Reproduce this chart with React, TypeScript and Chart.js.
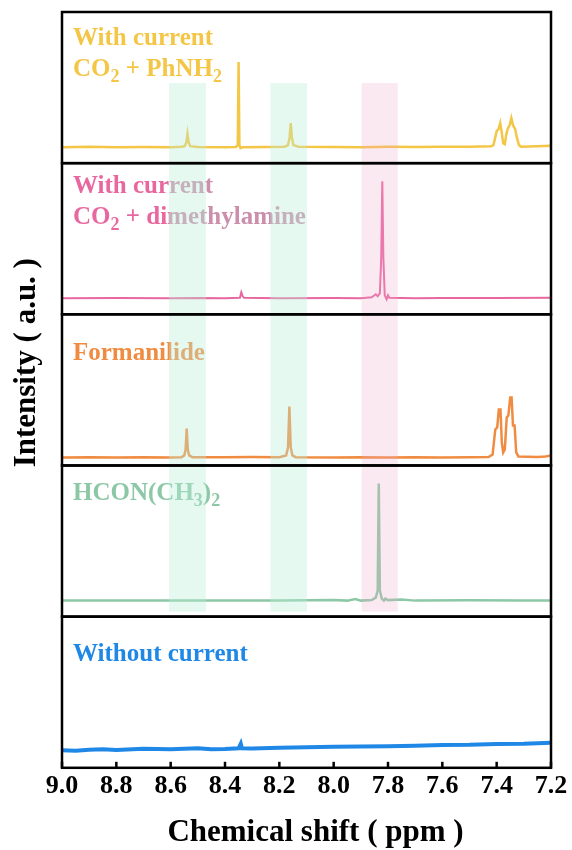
import React, { useEffect, useRef } from "react";
import { Chart, registerables } from "chart.js";
Chart.register(...registerables);

// ---------- axis ----------
const X_MIN = 7.2;
const X_MAX = 9.0;
const X_STEP = 0.2;
const X_TITLE = "Chemical shift ( ppm )";
const Y_TITLE = "Intensity ( a.u. )";

// ---------- spectra (ppm, intensity) ----------
// 1: With current, CO2 + PhNH2
const phShift = [9.0, 8.9, 8.8, 8.7, 8.6, 8.56, 8.548, 8.542, 8.538, 8.534, 8.528, 8.5, 8.4, 8.36, 8.353, 8.35, 8.347, 8.343, 8.335, 8.25, 8.18, 8.168, 8.162, 8.158, 8.154, 8.148, 8.13, 8.0, 7.9, 7.8, 7.7, 7.6, 7.5, 7.42, 7.412, 7.405, 7.4, 7.393, 7.387, 7.382, 7.376, 7.37, 7.365, 7.36, 7.352, 7.346, 7.34, 7.332, 7.326, 7.318, 7.31, 7.25, 7.2];
const phInt = [0, 0.3, 0, 0.2, 0, 0.3, 1, 5, 13, 5, 1, 0.2, 0, 0.2, 2, 85, 2, -1, 0, 0.2, 0.5, 2, 10, 24, 10, 2, 0.5, 0.2, 0, 0.3, 0.2, 0.5, 0.5, 1, 2, 10, 16, 18, 24, 16, 4, 3, 12, 18, 22, 29, 22, 18, 10, 2, 0.5, 1, 1.5];

// 2: With current, CO2 + dimethylamine
const dmaShift = [9.0, 8.8, 8.6, 8.5, 8.4, 8.345, 8.34, 8.335, 8.33, 8.2, 8.0, 7.9, 7.86, 7.845, 7.838, 7.83, 7.825, 7.821, 7.817, 7.812, 7.805, 7.8, 7.795, 7.7, 7.6, 7.4, 7.2];
const dmaInt = [0, 0.3, 0, 0.3, 0, 0.5, 6, 2, 0.5, 0, 0.3, 0, 1, 4, 2, 5, 40, 117, 40, 3, -1, 3, 0.5, 0, 0.3, 0.2, 0.5];

// 3: Formanilide
const faShift = [9.0, 8.9, 8.8, 8.7, 8.6, 8.56, 8.55, 8.545, 8.541, 8.537, 8.532, 8.52, 8.4, 8.3, 8.2, 8.175, 8.168, 8.163, 8.158, 8.152, 8.14, 8.0, 7.9, 7.8, 7.7, 7.6, 7.5, 7.43, 7.415, 7.405, 7.398, 7.392, 7.386, 7.381, 7.376, 7.37, 7.363, 7.357, 7.35, 7.345, 7.34, 7.334, 7.328, 7.32, 7.25, 7.22, 7.2];
const faInt = [0, 0.3, 0, 0.3, 0, 0.3, 2, 8, 29, 8, 2, 0.3, 0.2, 0.5, 0.3, 2, 10, 51, 10, 2, 0.3, 0, 0.3, 0, 0.3, 0, 0.3, 0.5, 3, 28, 30, 48, 48, 15, 5, 8, 40, 42, 60, 60, 32, 32, 5, 1, 0.5, 1, 2];

// 4: HCON(CH3)2
const dmfShift = [9.0, 8.8, 8.6, 8.4, 8.2, 8.0, 7.95, 7.92, 7.9, 7.86, 7.845, 7.838, 7.834, 7.83, 7.823, 7.815, 7.81, 7.8, 7.75, 7.7, 7.5, 7.3, 7.2];
const dmfInt = [0, 0.2, 0, 0.2, 0, 0.5, 0, 1.5, 0, 0.5, 3, 10, 117, 10, 2, 0, 2, 0.5, 1, 0, 0.3, 0, 0];

// 5: Without current
const blankShift = [9.0, 8.95, 8.9, 8.85, 8.8, 8.7, 8.6, 8.5, 8.45, 8.4, 8.35, 8.342, 8.338, 8.3, 8.2, 8.1, 8.0, 7.9, 7.8, 7.7, 7.6, 7.5, 7.4, 7.3, 7.25, 7.2];
const blankInt = [1.5, 1, 2, 2.5, 1.8, 3, 2.5, 3.5, 2.5, 2.8, 3.5, 8, 3.5, 3.2, 4, 4.5, 5, 5.2, 5.5, 6, 6.8, 7, 7.8, 8, 8.5, 9];

// ---------- panels, top to bottom ----------
const panelShifts = [phShift, dmaShift, faShift, dmfShift, blankShift];
const panelInts = [phInt, dmaInt, faInt, dmfInt, blankInt];
const panelLabels = [
  ["With current", "CO_2 + PhNH_2"],
  ["With current", "CO_2 + dimethylamine"],
  ["Formanilide"],
  ["HCON(CH_3)_2"],
  ["Without current"],
];
const panelColors = ["#F4C646", "#E8679F", "#F08C42", "#8DC8A6", "#1F88E6"];
const labelFadeColors = [null, "#CB8FAC", null, null, null];
const panelLineWidths = [2.5, 2, 2.5, 2.5, 4];
const panelYMin = [-16, -16, -8, -16, -16];
const PANEL_SPAN = 151;
const labelOffsets = [33, 30, 46, 35, 44];

// ---------- highlight bands (ppm) ----------
const bandFrom = [8.606, 8.233, 7.897];
const bandTo = [8.47, 8.098, 7.764];
const bandColors = ["rgba(185,238,215,0.36)", "rgba(185,238,215,0.36)", "rgba(240,170,200,0.26)"];
const BAND_TOP_VALUE = 64; // in top panel's units
const BAND_BOTTOM_VALUE = -11; // in 4th panel's units

const FONT = "'Liberation Serif', 'Times New Roman', serif";

function drawRich(ctx: CanvasRenderingContext2D, text: string, x: number, y: number, size: number) {
  const parts = text.split(/(_.)/);
  let cx = x;
  for (const part of parts) {
    if (!part) continue;
    if (part[0] === "_") {
      ctx.font = `bold ${Math.round(size * 0.7)}px ${FONT}`;
      ctx.fillText(part[1], cx, y + size * 0.24);
      cx += ctx.measureText(part[1]).width;
    } else {
      ctx.font = `bold ${size}px ${FONT}`;
      ctx.fillText(part, cx, y);
      cx += ctx.measureText(part).width;
    }
  }
}

const panelPlugin = {
  id: "panelPlugin",
  afterDatasetsDraw(chart: any) {
    const ctx: CanvasRenderingContext2D = chart.ctx;
    const { left, right, top, bottom } = chart.chartArea;
    const xs = chart.scales.x;
    const bandStartPx = xs.getPixelForValue(bandFrom[0]);
    // labels
    panelLabels.forEach((lines, i) => {
      const sc = chart.scales["y" + i];
      ctx.save();
      const fade = labelFadeColors[i];
      if (fade) {
        const g = ctx.createLinearGradient(left, 0, right, 0);
        const f = (bandStartPx - left) / (right - left);
        g.addColorStop(0, panelColors[i]);
        g.addColorStop(f, panelColors[i]);
        g.addColorStop(Math.min(1, f + 0.001), fade);
        g.addColorStop(1, fade);
        ctx.fillStyle = g;
      } else {
        ctx.fillStyle = panelColors[i];
      }
      ctx.textBaseline = "alphabetic";
      ctx.textAlign = "left";
      lines.forEach((ln, k) => drawRich(ctx, ln, left + 11, sc.top + labelOffsets[i] + k * 31, 25));
      ctx.restore();
    });
    // bands
    const yTop = chart.scales.y0.getPixelForValue(BAND_TOP_VALUE);
    const yBot = chart.scales.y3.getPixelForValue(BAND_BOTTOM_VALUE);
    ctx.save();
    bandFrom.forEach((f, i) => {
      const x1 = xs.getPixelForValue(f);
      const x2 = xs.getPixelForValue(bandTo[i]);
      ctx.fillStyle = bandColors[i];
      ctx.fillRect(Math.min(x1, x2), yTop, Math.abs(x2 - x1), yBot - yTop);
    });
    ctx.restore();
    // panel borders
    ctx.save();
    ctx.strokeStyle = "#000";
    ctx.lineWidth = 2.5;
    panelLabels.forEach((_, i) => {
      const sc = chart.scales["y" + i];
      ctx.strokeRect(left, sc.top, right - left, sc.bottom - sc.top);
    });
    // inward ticks on bottom axis
    xs.ticks.forEach((t: any) => {
      const px = xs.getPixelForValue(t.value);
      ctx.beginPath();
      ctx.moveTo(px, bottom);
      ctx.lineTo(px, bottom - 6);
      ctx.stroke();
    });
    // x title
    ctx.fillStyle = "#000";
    ctx.font = `bold 31px ${FONT}`;
    ctx.textAlign = "center";
    ctx.textBaseline = "alphabetic";
    ctx.fillText(X_TITLE, (left + right) / 2 + 9, bottom + 73);
    // y title
    ctx.textBaseline = "middle";
    ctx.translate(27, top + (bottom - top) * 0.464);
    ctx.rotate(-Math.PI / 2);
    ctx.fillText(Y_TITLE, 0, 0);
    ctx.restore();
  },
};

export default function App() {
  const ref = useRef<HTMLCanvasElement | null>(null);
  useEffect(() => {
    if (!ref.current) return;
    const yScales: any = {};
    // defined bottom-to-top so that y0 (first panel) ends up at the top
    for (let i = panelLabels.length - 1; i >= 0; i--) {
      yScales["y" + i] = {
        type: "linear",
        position: "left",
        stack: "panels",
        stackWeight: 1,
        min: panelYMin[i],
        max: panelYMin[i] + PANEL_SPAN,
        grid: { display: false, drawTicks: false },
        border: { display: false },
        ticks: { display: false },
      };
    }
    const datasets = panelShifts.map((xsArr, i) => ({
      label: panelLabels[i].join(" "),
      data: xsArr.map((x, k) => ({ x, y: panelInts[i][k] })),
      borderColor: panelColors[i],
      borderWidth: panelLineWidths[i],
      pointRadius: 0,
      tension: 0,
      fill: false,
      yAxisID: "y" + i,
    }));
    const chart = new Chart(ref.current, {
      type: "line",
      data: { datasets },
      options: {
        animation: false,
        responsive: true,
        maintainAspectRatio: false,
        layout: { padding: { top: 12, left: 62, right: 21, bottom: 45 } },
        plugins: { legend: { display: false }, tooltip: { enabled: false } },
        scales: {
          x: {
            type: "linear",
            reverse: true,
            min: X_MIN,
            max: X_MAX,
            grid: { display: false, drawTicks: false },
            border: { display: false },
            ticks: {
              stepSize: X_STEP,
              padding: 3,
              color: "#000",
              font: { family: FONT, size: 26, weight: "bold" },
              callback: (v: any) => Number(v).toFixed(1),
              maxRotation: 0,
              autoSkip: false,
            },
          },
          ...yScales,
        },
      } as any,
      plugins: [panelPlugin],
    });
    return () => chart.destroy();
  }, []);
  return (
    <div style={{ position: "absolute", left: 0, top: 0, width: 572, height: 850, background: "#fff" }}>
      <canvas ref={ref} />
    </div>
  );
}
